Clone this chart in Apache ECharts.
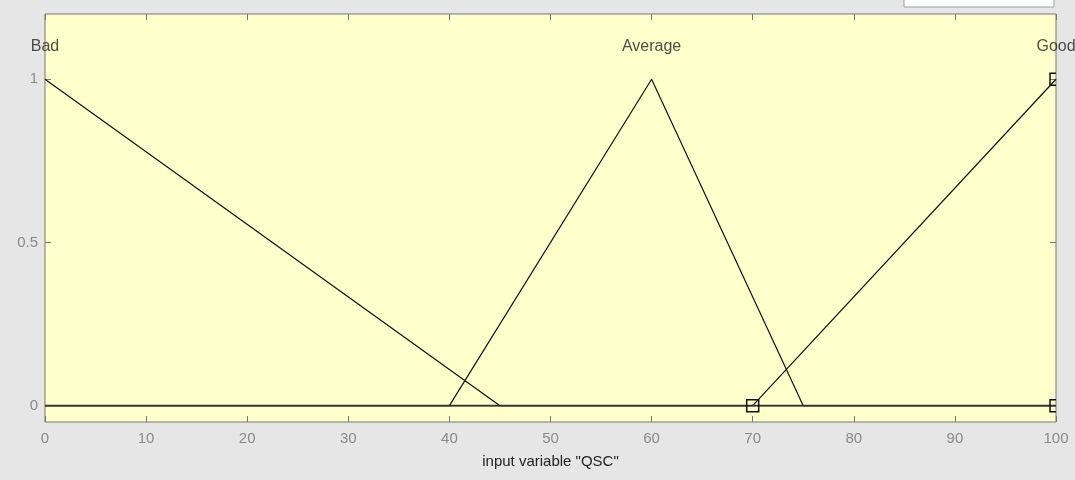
<!DOCTYPE html>
<html>
<head>
<meta charset="utf-8">
<script src="https://cdn.jsdelivr.net/npm/echarts@6/dist/echarts.min.js"></script>
<style>
html,body{margin:0;padding:0;background:#e6e6e6;}
#c{width:1075px;height:480px;}
</style>
</head>
<body>
<div id="c"></div>
<script>
var xTicks = [0, 10, 20, 30, 40, 50, 60, 70, 80, 90, 100];
var yTicks = [0, 0.5, 1];
var mfNames = ['Bad', 'Average', 'Good'];
var badMF = [[0, 1], [45, 0], [100, 0]];
var averageMF = [[0, 0], [40, 0], [60, 1], [75, 0], [100, 0]];
var goodMF = [[0, 0], [70, 0], [100, 1]];
var selectedPoints = [[70, 0], [100, 1], [100, 0]];
var labelPositions = [[0, 1.1], [60, 1.1], [100, 1.1]];
var axisTitle = 'input variable "QSC"';

var chart = echarts.init(document.getElementById('c'), null, {renderer: 'canvas'});
var font = 'Arial, "Liberation Sans", sans-serif';

function lineSeries(data, z) {
  return {
    type: 'line', data: data, symbol: 'none', animation: false, z: z,
    lineStyle: {color: '#111', width: 1.2}
  };
}
function tickStyle() {
  return {show: true, inside: true, length: 6, lineStyle: {color: '#777'}};
}

chart.setOption({
  backgroundColor: '#e6e6e6',
  animation: false,
  graphic: [{
    type: 'rect', shape: {x: 904, y: -2, width: 150, height: 9},
    style: {fill: '#ffffff', stroke: '#a0a0a0', lineWidth: 1}, z: 100
  }],
  grid: {
    left: 45, right: 19, top: 14, bottom: 58,
    show: true, backgroundColor: '#ffffcc', borderColor: '#777', borderWidth: 1
  },
  xAxis: [{
    type: 'value', min: 0, max: 100, interval: 10, position: 'bottom',
    name: axisTitle, nameLocation: 'middle', nameGap: 32,
    nameTextStyle: {color: '#222', fontSize: 15, fontFamily: font},
    axisLine: {show: false, onZero: false},
    axisTick: tickStyle(),
    axisLabel: {color: '#8a8a8a', fontSize: 15, fontFamily: font, margin: 9},
    splitLine: {show: false}
  }, {
    type: 'value', min: 0, max: 100, interval: 10, position: 'top',
    axisLine: {show: false, onZero: false},
    axisTick: tickStyle(),
    axisLabel: {show: false},
    splitLine: {show: false}
  }],
  yAxis: [{
    type: 'value', min: -0.05, max: 1.2, position: 'left',
    axisLine: {show: false, onZero: false},
    axisTick: {show: true, inside: true, length: 6, customValues: yTicks, lineStyle: {color: '#777'}},
    axisLabel: {color: '#8a8a8a', fontSize: 15, fontFamily: font, margin: 7,
      customValues: yTicks},
    splitLine: {show: false}
  }, {
    type: 'value', min: -0.05, max: 1.2, position: 'right',
    axisLine: {show: false, onZero: false},
    axisTick: {show: true, inside: true, length: 6, customValues: yTicks, lineStyle: {color: '#777'}},
    axisLabel: {show: false},
    splitLine: {show: false}
  }],
  series: [
    lineSeries(badMF, 3),
    lineSeries(averageMF, 3),
    lineSeries(goodMF, 3),
    {
      type: 'line', data: [[0, 0], [100, 0]], symbol: 'none', z: 4,
      lineStyle: {color: '#333', width: 1.8}
    },
    {
      type: 'custom', z: 6, clip: true,
      data: selectedPoints,
      renderItem: function (params, api) {
        var p = api.coord([api.value(0), api.value(1)]);
        var s = 12;
        var r = echarts.graphic.clipRectByRect(
          {x: p[0] - s / 2, y: p[1] - s / 2, width: s, height: s},
          {x: params.coordSys.x, y: params.coordSys.y, width: params.coordSys.width + 1, height: params.coordSys.height}
        );
        if (!r) return null;
        return {
          type: 'rect', shape: r,
          style: {fill: 'rgba(0,0,0,0)', stroke: '#111', lineWidth: 1.5}
        };
      }
    },
    {
      type: 'scatter', symbolSize: 0, z: 7, clip: false,
      data: labelPositions.map(function (p, i) { return {value: p, name: mfNames[i]}; }),
      label: {
        show: true, position: 'inside', formatter: '{b}',
        color: '#222', fontSize: 16, fontFamily: font
      }
    }
  ]
});
</script>
</body>
</html>
